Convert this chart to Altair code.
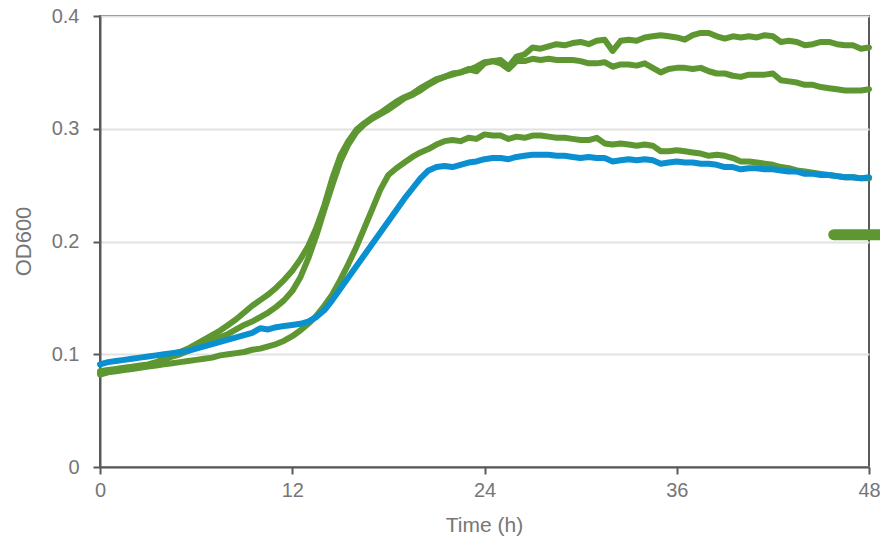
import altair as alt
import pandas as pd

# sampling grid (hours)
time_h = [i * 0.5 for i in range(97)]

green_a = [
    0.085, 0.086, 0.087, 0.088, 0.089, 0.090, 0.091, 0.093, 0.096, 0.099,
    0.102, 0.105, 0.109, 0.113, 0.117, 0.121, 0.126, 0.131, 0.137, 0.143,
    0.148, 0.153, 0.159, 0.166, 0.174, 0.184, 0.196, 0.212, 0.232, 0.256,
    0.276, 0.289, 0.299, 0.305, 0.310, 0.314, 0.319, 0.324, 0.328, 0.331,
    0.336, 0.340, 0.344, 0.346, 0.348, 0.350, 0.353, 0.351, 0.358, 0.360,
    0.361, 0.355, 0.364, 0.366, 0.372, 0.371, 0.373, 0.375, 0.374, 0.376,
    0.377, 0.375, 0.378, 0.379, 0.369, 0.378, 0.379, 0.378, 0.381, 0.382,
    0.383, 0.382, 0.381, 0.379, 0.383, 0.385, 0.385, 0.382, 0.380, 0.382,
    0.381, 0.382, 0.381, 0.383, 0.382, 0.377, 0.378, 0.377, 0.374, 0.375,
    0.377, 0.377, 0.375, 0.374, 0.374, 0.371,
    0.372,
]

green_b = [
    0.084, 0.085, 0.086, 0.087, 0.088, 0.089, 0.090, 0.092, 0.095, 0.098,
    0.100, 0.103, 0.106, 0.109, 0.112, 0.115, 0.118, 0.122, 0.126, 0.129,
    0.133, 0.137, 0.142, 0.148, 0.156, 0.168, 0.185, 0.205, 0.228, 0.250,
    0.271, 0.286, 0.297, 0.304, 0.309, 0.313, 0.317, 0.322, 0.327, 0.330,
    0.334, 0.339, 0.343, 0.346, 0.349, 0.350, 0.352, 0.355, 0.359, 0.360,
    0.358, 0.353, 0.360, 0.360, 0.362, 0.361, 0.362, 0.361, 0.361, 0.361,
    0.360, 0.358, 0.358, 0.359, 0.355, 0.357, 0.357, 0.356, 0.358, 0.354,
    0.350, 0.353, 0.354, 0.354, 0.353, 0.354, 0.351, 0.349, 0.349, 0.347,
    0.346, 0.348, 0.348, 0.348, 0.349, 0.343, 0.342, 0.341, 0.339, 0.339,
    0.337, 0.336, 0.335, 0.334, 0.334, 0.334,
    0.335,
]

green_c = [
    0.082, 0.084, 0.085, 0.086, 0.087, 0.088, 0.089, 0.090, 0.091, 0.092,
    0.093, 0.094, 0.095, 0.096, 0.097, 0.099, 0.100, 0.101, 0.102, 0.104,
    0.105, 0.107, 0.109, 0.112, 0.116, 0.121, 0.127, 0.134, 0.143, 0.153,
    0.166, 0.180, 0.195, 0.212, 0.229, 0.246, 0.259, 0.265, 0.270, 0.275,
    0.279, 0.282, 0.286, 0.289, 0.290, 0.289, 0.292, 0.291, 0.295, 0.294,
    0.294, 0.291, 0.293, 0.292, 0.294, 0.294, 0.293, 0.292, 0.292, 0.291,
    0.290, 0.290, 0.292, 0.287, 0.286, 0.287, 0.286, 0.285, 0.286, 0.285,
    0.280, 0.280, 0.281, 0.280, 0.279, 0.278, 0.276, 0.277, 0.276, 0.274,
    0.271, 0.271, 0.270, 0.269, 0.268, 0.266, 0.265, 0.263, 0.262, 0.261,
    0.260, 0.259, 0.258, 0.257, 0.257, 0.256,
    0.256,
]

blue_a = [
    0.091, 0.093, 0.094, 0.095, 0.096, 0.097, 0.098, 0.099, 0.100, 0.101,
    0.102, 0.103, 0.105, 0.107, 0.109, 0.111, 0.113, 0.115, 0.117, 0.119,
    0.123, 0.122, 0.124, 0.125, 0.126, 0.127, 0.129, 0.133, 0.139, 0.148,
    0.158, 0.168, 0.178, 0.188, 0.198, 0.208, 0.218, 0.228, 0.238, 0.247,
    0.256, 0.263, 0.266, 0.267, 0.266, 0.268, 0.270, 0.271, 0.273, 0.274,
    0.274, 0.273, 0.275, 0.276, 0.277, 0.277, 0.277, 0.276, 0.276, 0.275,
    0.274, 0.275, 0.274, 0.274, 0.271, 0.272, 0.273, 0.272, 0.273, 0.272,
    0.269, 0.270, 0.271, 0.270, 0.270, 0.269, 0.269, 0.268, 0.266, 0.266,
    0.264, 0.265, 0.265, 0.264, 0.264, 0.263, 0.262, 0.262, 0.260, 0.260,
    0.259, 0.259, 0.258, 0.257, 0.257, 0.256,
    0.257,
]

# clipped legend stub at right edge
stub_x = [45.8, 48.7]
stub_y = [0.206]

x_ticks = [0, 12, 24, 36, 48]
y_ticks = [0, 0.1, 0.2, 0.3, 0.4]

GREEN = "#5e9732"
BLUE = "#0a8fd0"
AXIS = "#595959"
TEXT = "#767676"
FONT = "Liberation Sans"

rows = []
for name, vals in [("A", green_a), ("B", green_b), ("C", green_c), ("D", blue_a)]:
    for t, v in zip(time_h, vals):
        rows.append({"t": t, "od": v, "s": name})
df = pd.DataFrame(rows)

x_enc = alt.X(
    "t:Q",
    scale=alt.Scale(domain=[0, 48], nice=False),
    axis=alt.Axis(
        values=x_ticks, grid=False, title="Time (h)", labelFlush=False,
        tickSize=7, tickWidth=2, tickColor=AXIS, domainColor=AXIS, domainWidth=2,
        labelColor=TEXT, labelFont=FONT, labelFontSize=20, labelPadding=6,
        titleColor=TEXT, titleFont=FONT, titleFontSize=21, titleFontWeight="normal",
        titleX=384, titleY=58, titleBaseline="middle", titleAlign="center",
    ),
)
y_enc = alt.Y(
    "od:Q",
    scale=alt.Scale(domain=[0, 0.4], nice=False),
    axis=alt.Axis(
        values=y_ticks, format="~g", grid=True, gridColor="#e2e2e2", gridWidth=2,
        title="OD600", labelFlush=False,
        tickSize=7, tickWidth=2, tickColor=AXIS, domainColor=AXIS, domainWidth=2,
        labelColor=TEXT, labelFont=FONT, labelFontSize=20, labelPadding=14,
        titleColor=TEXT, titleFont=FONT, titleFontSize=22, titleFontWeight="normal",
        titleX=-77, titleY=225, titleBaseline="middle", titleAlign="center",
    ),
)

base = alt.Chart(df)
greens = base.transform_filter(alt.datum.s != "D").mark_line(
    strokeWidth=6, strokeCap="round", strokeJoin="round", color=GREEN
).encode(x=x_enc, y=y_enc, detail="s:N")
blue = base.transform_filter(alt.datum.s == "D").mark_line(
    strokeWidth=6, strokeCap="round", strokeJoin="round", color=BLUE
).encode(x="t:Q", y="od:Q")

stub_df = pd.DataFrame({"x": [stub_x[0]], "x2": [stub_x[1]], "y": stub_y})
stub = alt.Chart(stub_df).mark_rule(
    strokeWidth=11, strokeCap="round", color=GREEN, clip=False
).encode(x="x:Q", x2="x2:Q", y="y:Q")

chart = alt.layer(greens, blue, stub).properties(
    width=769, height=451,
    autosize=alt.AutoSizeParams(type="none"),
    padding={"left": 92, "top": 8, "right": 11, "bottom": 72},
).configure_view(stroke=AXIS, strokeWidth=2)

chart.save("out.html", embed_options={"renderer": "svg", "actions": False})
